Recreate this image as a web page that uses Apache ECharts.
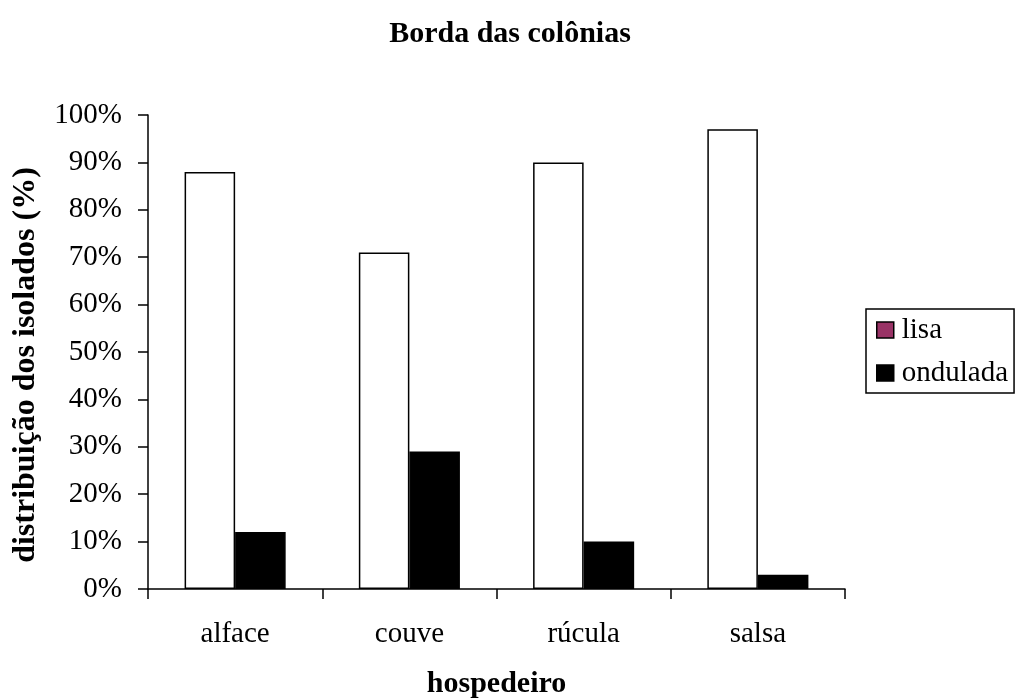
<!DOCTYPE html>
<html>
<head>
<meta charset="utf-8">
<script src="https://cdn.jsdelivr.net/npm/echarts@6/dist/echarts.min.js"></script>
<style>
  html, body { margin: 0; padding: 0; background: #fff; }
  #chart { width: 1020px; height: 700px; }
</style>
</head>
<body>
<div id="chart"></div>
<script>
// dados
const categorias = ['alface', 'couve', 'rúcula', 'salsa'];
const lisa = [88, 71, 90, 97];
const ondulada = [12, 29, 10, 3];
const yTicks = [0, 10, 20, 30, 40, 50, 60, 70, 80, 90, 100];

const fonte = '"Liberation Serif", "Times New Roman", serif';
const chart = echarts.init(document.getElementById('chart'));

const option = {
  animation: false,
  backgroundColor: '#fff',
  textStyle: { fontFamily: fonte, color: '#000' },
  title: {
    text: 'Borda das colônias',
    left: 'center',
    top: 14,
    textStyle: { fontFamily: fonte, fontSize: 30, fontWeight: 'bold', color: '#000' }
  },
  grid: { left: 148, right: 175, top: 115, bottom: 111, outerBoundsMode: 'none' },
  legend: {
    orient: 'vertical',
    left: 866,
    top: 309,
    padding: [6, 6, 5, 10],
    borderColor: '#000',
    borderWidth: 1.5,
    itemWidth: 17,
    itemHeight: 16,
    itemGap: 13,
    textStyle: { fontFamily: fonte, fontSize: 29, lineHeight: 30, color: '#000', padding: [0, 0, 0, 3] },
    data: [
      { name: 'lisa', icon: 'rect', itemStyle: { color: '#993366', borderColor: '#000', borderWidth: 1.5 } },
      { name: 'ondulada', icon: 'rect', itemStyle: { color: '#000', borderColor: '#000', borderWidth: 1.5 } }
    ]
  },
  xAxis: {
    type: 'category',
    data: categorias,
    name: 'hospedeiro',
    nameLocation: 'middle',
    nameGap: 80,
    nameTextStyle: { fontFamily: fonte, fontSize: 30, fontWeight: 'bold', color: '#000' },
    axisLine: { lineStyle: { color: '#000', width: 1.5 } },
    axisTick: { show: true, length: 10, alignWithLabel: false, lineStyle: { color: '#000', width: 1.5 } },
    axisLabel: { fontFamily: fonte, fontSize: 29, color: '#000', margin: 31 },
    splitLine: { show: false }
  },
  yAxis: {
    type: 'value',
    min: 0,
    max: 100,
    interval: 10,
    name: 'distribuição dos isolados (%)',
    nameLocation: 'middle',
    nameGap: 106,
    nameTextStyle: {
      fontFamily: fonte, fontSize: 32, fontWeight: 'bold', color: '#000',
      padding: [0, 26, 0, 0]
    },
    axisLine: { show: true, lineStyle: { color: '#000', width: 1.5 } },
    axisTick: { show: true, length: 10, lineStyle: { color: '#000', width: 1.5 } },
    axisLabel: {
      fontFamily: fonte, fontSize: 29, color: '#000', margin: 26,
      formatter: v => (yTicks.includes(v) ? v + '%' : '')
    },
    splitLine: { show: false }
  },
  series: [
    {
      name: 'lisa',
      type: 'bar',
      data: lisa,
      barGap: '0%',
      barCategoryGap: '42%',
      itemStyle: { color: '#fff', borderColor: '#000', borderWidth: 1.5 }
    },
    {
      name: 'ondulada',
      type: 'bar',
      data: ondulada,
      barGap: '0%',
      barCategoryGap: '42%',
      itemStyle: { color: '#000', borderColor: '#000', borderWidth: 1.5 }
    }
  ]
};

chart.setOption(option);
</script>
</body>
</html>
